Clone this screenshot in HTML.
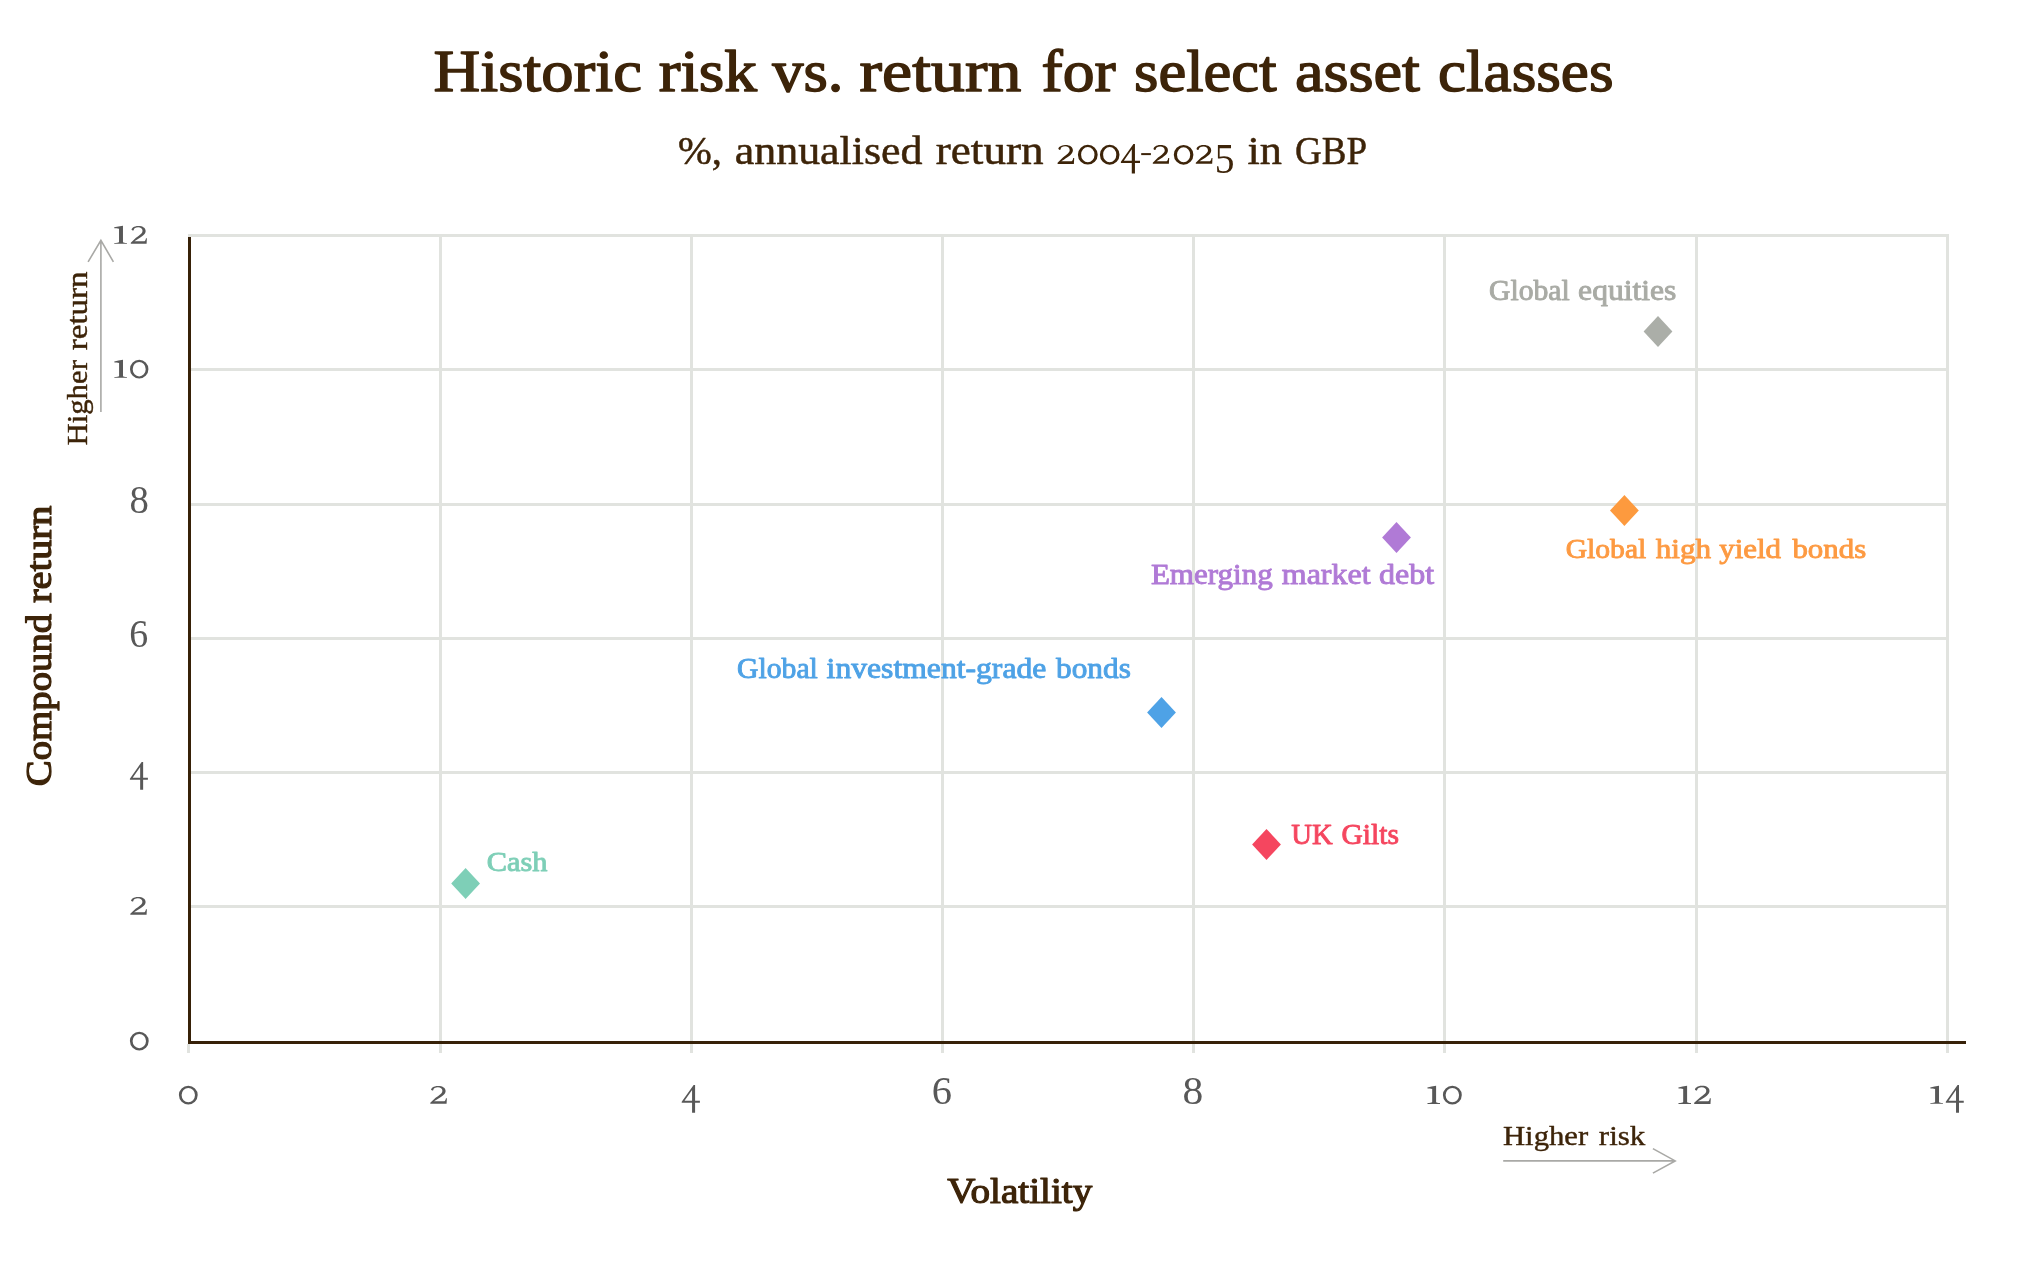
<!DOCTYPE html><html><head><meta charset="utf-8"><title>Historic risk vs. return for select asset classes</title><style>html,body{margin:0;padding:0;background:#fff;}svg{display:block;will-change:transform;font-family:"Liberation Serif",serif;}</style></head><body>
<svg width="2044" height="1280" viewBox="0 0 2044 1280">
<rect width="2044" height="1280" fill="#fff"/>
<g fill="#e1e3df"><rect x="188" y="234" width="1760" height="3"/><rect x="188" y="368" width="1760" height="3"/><rect x="188" y="503" width="1760" height="3"/><rect x="188" y="637" width="1760" height="3"/><rect x="188" y="771" width="1760" height="3"/><rect x="188" y="905" width="1760" height="3"/><rect x="439" y="234" width="3" height="819"/><rect x="690" y="234" width="3" height="819"/><rect x="941" y="234" width="3" height="819"/><rect x="1192" y="234" width="3" height="819"/><rect x="1443" y="234" width="3" height="819"/><rect x="1695" y="234" width="3" height="819"/><rect x="1946" y="234" width="3" height="819"/><rect x="187" y="1044" width="3" height="9"/></g>
<g>
<g font-size="59.43" fill="#3d2409" stroke="#3d2409" stroke-width="1.4" stroke-linejoin="round"><text transform="translate(433.55,91) scale(1.0880,1)">Historic</text><text transform="translate(658.65,91) scale(1.1025,1)">risk</text><text transform="translate(772.24,91) scale(1.0507,1)">vs.</text><text transform="translate(859.54,91) scale(1.1407,1)">return</text><text transform="translate(1041.56,91) scale(1.0709,1)">for</text><text transform="translate(1134.08,91) scale(1.0531,1)">select</text><text transform="translate(1294.95,91) scale(1.0827,1)">asset</text><text transform="translate(1437.97,91) scale(1.0639,1)">classes</text></g>
<g font-size="40.68" fill="#3d2409" stroke="#3d2409" stroke-width="0.5" stroke-linejoin="round"><text transform="translate(678.08,163.55) scale(0.9966,1)">%,</text><text transform="translate(734.7,163.55) scale(1.0804,1)">annualised</text><text transform="translate(935.77,163.55) scale(1.1105,1)">return</text></g>
<g font-size="40.23" fill="#3d2409" stroke="#3d2409" stroke-width="0.5" stroke-linejoin="round"><text transform="translate(1247.48,163.65) scale(1.1007,1)">in</text><text transform="translate(1294.97,163.65) scale(0.9203,1)">GBP</text></g>
<g font-size="36.02" fill="#3d2409" stroke="#3d2409" stroke-width="1.2" stroke-linejoin="round"><text transform="translate(51.2,786.17) rotate(-90) scale(1.0770,1)">Compound</text><text transform="translate(51.2,603.06) rotate(-90) scale(1.1323,1)">return</text></g>
<g font-size="36.42" fill="#3d2409" stroke="#3d2409" stroke-width="1.2" stroke-linejoin="round"><text transform="translate(947.34,1202.5) scale(1.0742,1)">Volatility</text></g>
<g font-size="29.41" fill="#3d2409" stroke="#3d2409" stroke-width="0.4" stroke-linejoin="round"><text transform="translate(86.7,445.57) rotate(-90) scale(1.0471,1)">Higher</text><text transform="translate(86.7,350.19) rotate(-90) scale(1.1210,1)">return</text></g>
<g font-size="27.73" fill="#3d2409" stroke="#3d2409" stroke-width="0.4" stroke-linejoin="round"><text transform="translate(1502.94,1144.5) scale(1.1075,1)">Higher</text><text transform="translate(1598.84,1144.5) scale(1.1187,1)">risk</text></g>
<g font-size="28.73" fill="#a9aba5" stroke="#a9aba5" stroke-width="0.9" stroke-linejoin="round"><text transform="translate(1489.04,299.75) scale(1.0330,1)">Global</text><text transform="translate(1578.11,299.75) scale(1.1006,1)">equities</text></g>
<g font-size="28.28" fill="#fd9a42" stroke="#fd9a42" stroke-width="0.9" stroke-linejoin="round"><text transform="translate(1565.65,558.45) scale(1.0478,1)">Global</text><text transform="translate(1655.7,558.45) scale(1.1021,1)">high</text><text transform="translate(1719.29,558.45) scale(1.0932,1)">yield</text><text transform="translate(1792.39,558.45) scale(1.0929,1)">bonds</text></g>
<g font-size="28.5" fill="#b07ad6" stroke="#b07ad6" stroke-width="0.9" stroke-linejoin="round"><text transform="translate(1150.91,583.55) scale(1.0897,1)">Emerging</text><text transform="translate(1281.71,583.55) scale(1.1247,1)">market</text><text transform="translate(1379,583.55) scale(1.1247,1)">debt</text></g>
<g font-size="28.43" fill="#4ea2e6" stroke="#4ea2e6" stroke-width="0.9" stroke-linejoin="round"><text transform="translate(737.04,678.45) scale(1.0450,1)">Global</text><text transform="translate(826.61,678.45) scale(1.1137,1)">investment-grade</text><text transform="translate(1056.1,678.45) scale(1.1005,1)">bonds</text></g>
<g font-size="28.8" fill="#f5465f" stroke="#f5465f" stroke-width="0.9" stroke-linejoin="round"><text transform="translate(1291.3,843.85) scale(0.9965,1)">UK</text><text transform="translate(1341.54,843.85) scale(1.0262,1)">Gilts</text></g>
<g font-size="28.28" fill="#7ecfb7" stroke="#7ecfb7" stroke-width="0.9" stroke-linejoin="round"><text transform="translate(486.73,870.65) scale(1.0747,1)">Cash</text></g>
<path transform="translate(114.30,225.80) scale(12.600,17.950)" d="M -0.0125 0.0783 C 0.2000 0.0435 0.4500 0.0087 0.6875 -0.0087 L 0.6875 0.8957 C 0.7000 0.9304 0.8500 0.9443 1.0000 0.9565 L 1.0000 1.0000 L 0.0000 1.0000 L 0.0000 0.9565 C 0.1750 0.9443 0.3500 0.9304 0.3750 0.8957 L 0.3750 0.1652 C 0.2500 0.1478 0.1250 0.1391 0.0050 0.1391 Z" fill="#585858"/>
<path transform="translate(130.80,225.80) scale(16.100,17.950)" d="M 0.0485 0.2261 C 0.0291 0.1304 0.2039 0.0087 0.4563 0.0052 C 0.7476 0.0017 0.9223 0.1130 0.9223 0.2870 C 0.9223 0.4783 0.6699 0.6174 0.3981 0.7652 L 0.2233 0.8609 L 0.8447 0.8609 C 0.8932 0.8522 0.9223 0.7913 0.9417 0.6957 L 1.0000 0.6957 L 0.9806 1.0000 L 0.0000 1.0000 L 0.0000 0.9391 L 0.3204 0.6696 C 0.5922 0.4957 0.7282 0.4087 0.7282 0.2783 C 0.7282 0.1565 0.6117 0.0817 0.4563 0.0817 C 0.3010 0.0817 0.1942 0.1391 0.1845 0.2174 C 0.1806 0.2696 0.1068 0.2904 0.0485 0.2261 Z" fill="#585858"/>
<path transform="translate(114.40,360.00) scale(12.500,17.800)" d="M -0.0125 0.0783 C 0.2000 0.0435 0.4500 0.0087 0.6875 -0.0087 L 0.6875 0.8957 C 0.7000 0.9304 0.8500 0.9443 1.0000 0.9565 L 1.0000 1.0000 L 0.0000 1.0000 L 0.0000 0.9565 C 0.1750 0.9443 0.3500 0.9304 0.3750 0.8957 L 0.3750 0.1652 C 0.2500 0.1478 0.1250 0.1391 0.0050 0.1391 Z" fill="#585858"/>
<path fill-rule="evenodd" fill="#585858" d="M130 369.2a9.2 9.4 0 1 0 18.4 0a9.2 9.4 0 1 0 -18.4 0ZM132.7 369.2a6.5 7.2 0 1 0 13 0a6.5 7.2 0 1 0 -13 0Z"/>
<text transform="translate(129.43,513.31) scale(0.3869,0.4001)" font-size="100" fill="#585858">8</text>
<text transform="translate(129.27,647.01) scale(0.3792,0.4033)" font-size="100" fill="#585858">6</text>
<path fill-rule="evenodd" transform="translate(129.90,761.90) scale(18.000,27.900)" d="M 0.0000 0.6056 L 0.6559 0.0000 L 0.7355 0.0000 L 0.7355 0.5704 L 1.0000 0.5704 L 1.0000 0.6408 L 0.7355 0.6408 L 0.7355 1.0000 L 0.5699 1.0000 L 0.5699 0.6408 L 0.0000 0.6408 Z M 0.1548 0.5704 L 0.5699 0.5704 L 0.5699 0.1789 Z" fill="#585858"/>
<path transform="translate(130.30,896.80) scale(16.600,18.000)" d="M 0.0485 0.2261 C 0.0291 0.1304 0.2039 0.0087 0.4563 0.0052 C 0.7476 0.0017 0.9223 0.1130 0.9223 0.2870 C 0.9223 0.4783 0.6699 0.6174 0.3981 0.7652 L 0.2233 0.8609 L 0.8447 0.8609 C 0.8932 0.8522 0.9223 0.7913 0.9417 0.6957 L 1.0000 0.6957 L 0.9806 1.0000 L 0.0000 1.0000 L 0.0000 0.9391 L 0.3204 0.6696 C 0.5922 0.4957 0.7282 0.4087 0.7282 0.2783 C 0.7282 0.1565 0.6117 0.0817 0.4563 0.0817 C 0.3010 0.0817 0.1942 0.1391 0.1845 0.2174 C 0.1806 0.2696 0.1068 0.2904 0.0485 0.2261 Z" fill="#585858"/>
<path fill-rule="evenodd" fill="#585858" d="M129.9 1041.1a9.4 9.3 0 1 0 18.8 0a9.4 9.3 0 1 0 -18.8 0ZM132.6 1041.1a6.7 7.1 0 1 0 13.4 0a6.7 7.1 0 1 0 -13.4 0Z"/>
<path fill-rule="evenodd" fill="#585858" d="M178.9 1095.1a9.4 9.3 0 1 0 18.8 0a9.4 9.3 0 1 0 -18.8 0ZM181.6 1095.1a6.7 7.1 0 1 0 13.4 0a6.7 7.1 0 1 0 -13.4 0Z"/>
<path transform="translate(430.30,1085.80) scale(16.600,18.000)" d="M 0.0485 0.2261 C 0.0291 0.1304 0.2039 0.0087 0.4563 0.0052 C 0.7476 0.0017 0.9223 0.1130 0.9223 0.2870 C 0.9223 0.4783 0.6699 0.6174 0.3981 0.7652 L 0.2233 0.8609 L 0.8447 0.8609 C 0.8932 0.8522 0.9223 0.7913 0.9417 0.6957 L 1.0000 0.6957 L 0.9806 1.0000 L 0.0000 1.0000 L 0.0000 0.9391 L 0.3204 0.6696 C 0.5922 0.4957 0.7282 0.4087 0.7282 0.2783 C 0.7282 0.1565 0.6117 0.0817 0.4563 0.0817 C 0.3010 0.0817 0.1942 0.1391 0.1845 0.2174 C 0.1806 0.2696 0.1068 0.2904 0.0485 0.2261 Z" fill="#585858"/>
<path fill-rule="evenodd" transform="translate(681.70,1085.00) scale(18.200,27.800)" d="M 0.0000 0.6056 L 0.6559 0.0000 L 0.7355 0.0000 L 0.7355 0.5704 L 1.0000 0.5704 L 1.0000 0.6408 L 0.7355 0.6408 L 0.7355 1.0000 L 0.5699 1.0000 L 0.5699 0.6408 L 0.0000 0.6408 Z M 0.1548 0.5704 L 0.5699 0.5704 L 0.5699 0.1789 Z" fill="#585858"/>
<text transform="translate(931.76,1103.91) scale(0.4049,0.3989)" font-size="100" fill="#585858">6</text>
<text transform="translate(1182.62,1103.92) scale(0.4153,0.3912)" font-size="100" fill="#585858">8</text>
<path transform="translate(1427.50,1086.00) scale(12.500,17.900)" d="M -0.0125 0.0783 C 0.2000 0.0435 0.4500 0.0087 0.6875 -0.0087 L 0.6875 0.8957 C 0.7000 0.9304 0.8500 0.9443 1.0000 0.9565 L 1.0000 1.0000 L 0.0000 1.0000 L 0.0000 0.9565 C 0.1750 0.9443 0.3500 0.9304 0.3750 0.8957 L 0.3750 0.1652 C 0.2500 0.1478 0.1250 0.1391 0.0050 0.1391 Z" fill="#585858"/>
<path fill-rule="evenodd" fill="#585858" d="M1442.9 1095.1a9.45 9.4 0 1 0 18.9 0a9.45 9.4 0 1 0 -18.9 0ZM1445.6 1095.1a6.75 7.2 0 1 0 13.5 0a6.75 7.2 0 1 0 -13.5 0Z"/>
<path transform="translate(1678.50,1086.00) scale(12.500,17.900)" d="M -0.0125 0.0783 C 0.2000 0.0435 0.4500 0.0087 0.6875 -0.0087 L 0.6875 0.8957 C 0.7000 0.9304 0.8500 0.9443 1.0000 0.9565 L 1.0000 1.0000 L 0.0000 1.0000 L 0.0000 0.9565 C 0.1750 0.9443 0.3500 0.9304 0.3750 0.8957 L 0.3750 0.1652 C 0.2500 0.1478 0.1250 0.1391 0.0050 0.1391 Z" fill="#585858"/>
<path transform="translate(1694.20,1085.70) scale(16.600,18.200)" d="M 0.0485 0.2261 C 0.0291 0.1304 0.2039 0.0087 0.4563 0.0052 C 0.7476 0.0017 0.9223 0.1130 0.9223 0.2870 C 0.9223 0.4783 0.6699 0.6174 0.3981 0.7652 L 0.2233 0.8609 L 0.8447 0.8609 C 0.8932 0.8522 0.9223 0.7913 0.9417 0.6957 L 1.0000 0.6957 L 0.9806 1.0000 L 0.0000 1.0000 L 0.0000 0.9391 L 0.3204 0.6696 C 0.5922 0.4957 0.7282 0.4087 0.7282 0.2783 C 0.7282 0.1565 0.6117 0.0817 0.4563 0.0817 C 0.3010 0.0817 0.1942 0.1391 0.1845 0.2174 C 0.1806 0.2696 0.1068 0.2904 0.0485 0.2261 Z" fill="#585858"/>
<path transform="translate(1930.40,1086.00) scale(12.500,17.800)" d="M -0.0125 0.0783 C 0.2000 0.0435 0.4500 0.0087 0.6875 -0.0087 L 0.6875 0.8957 C 0.7000 0.9304 0.8500 0.9443 1.0000 0.9565 L 1.0000 1.0000 L 0.0000 1.0000 L 0.0000 0.9565 C 0.1750 0.9443 0.3500 0.9304 0.3750 0.8957 L 0.3750 0.1652 C 0.2500 0.1478 0.1250 0.1391 0.0050 0.1391 Z" fill="#585858"/>
<path fill-rule="evenodd" transform="translate(1945.80,1085.00) scale(17.950,27.800)" d="M 0.0000 0.6056 L 0.6559 0.0000 L 0.7355 0.0000 L 0.7355 0.5704 L 1.0000 0.5704 L 1.0000 0.6408 L 0.7355 0.6408 L 0.7355 1.0000 L 0.5699 1.0000 L 0.5699 0.6408 L 0.0000 0.6408 Z M 0.1548 0.5704 L 0.5699 0.5704 L 0.5699 0.1789 Z" fill="#585858"/>
<path transform="translate(1057.60,144.80) scale(16.600,19.100)" d="M 0.0485 0.2261 C 0.0291 0.1304 0.2039 0.0087 0.4563 0.0052 C 0.7476 0.0017 0.9223 0.1130 0.9223 0.2870 C 0.9223 0.4783 0.6699 0.6174 0.3981 0.7652 L 0.2233 0.8609 L 0.8447 0.8609 C 0.8932 0.8522 0.9223 0.7913 0.9417 0.6957 L 1.0000 0.6957 L 0.9806 1.0000 L 0.0000 1.0000 L 0.0000 0.9391 L 0.3204 0.6696 C 0.5922 0.4957 0.7282 0.4087 0.7282 0.2783 C 0.7282 0.1565 0.6117 0.0817 0.4563 0.0817 C 0.3010 0.0817 0.1942 0.1391 0.1845 0.2174 C 0.1806 0.2696 0.1068 0.2904 0.0485 0.2261 Z" fill="#3d2409"/>
<path fill-rule="evenodd" fill="#3d2409" d="M1077.9 154.7a9.9 9.9 0 1 0 19.8 0a9.9 9.9 0 1 0 -19.8 0ZM1081.1 154.7a6.7 7.6 0 1 0 13.4 0a6.7 7.6 0 1 0 -13.4 0Z"/>
<path fill-rule="evenodd" fill="#3d2409" d="M1099.9 154.7a9.8 9.9 0 1 0 19.6 0a9.8 9.9 0 1 0 -19.6 0ZM1103.1 154.7a6.6 7.6 0 1 0 13.2 0a6.6 7.6 0 1 0 -13.2 0Z"/>
<path fill-rule="evenodd" transform="translate(1120.90,144.10) scale(19.100,29.300)" d="M 0.0000 0.6056 L 0.6559 0.0000 L 0.7355 0.0000 L 0.7355 0.5704 L 1.0000 0.5704 L 1.0000 0.6408 L 0.7355 0.6408 L 0.7355 1.0000 L 0.5699 1.0000 L 0.5699 0.6408 L 0.0000 0.6408 Z M 0.1548 0.5704 L 0.5699 0.5704 L 0.5699 0.1789 Z" fill="#3d2409"/>
<path transform="translate(1152.80,145.00) scale(16.400,18.800)" d="M 0.0485 0.2261 C 0.0291 0.1304 0.2039 0.0087 0.4563 0.0052 C 0.7476 0.0017 0.9223 0.1130 0.9223 0.2870 C 0.9223 0.4783 0.6699 0.6174 0.3981 0.7652 L 0.2233 0.8609 L 0.8447 0.8609 C 0.8932 0.8522 0.9223 0.7913 0.9417 0.6957 L 1.0000 0.6957 L 0.9806 1.0000 L 0.0000 1.0000 L 0.0000 0.9391 L 0.3204 0.6696 C 0.5922 0.4957 0.7282 0.4087 0.7282 0.2783 C 0.7282 0.1565 0.6117 0.0817 0.4563 0.0817 C 0.3010 0.0817 0.1942 0.1391 0.1845 0.2174 C 0.1806 0.2696 0.1068 0.2904 0.0485 0.2261 Z" fill="#3d2409"/>
<path fill-rule="evenodd" fill="#3d2409" d="M1173.8 154.8a9.8 9.8 0 1 0 19.6 0a9.8 9.8 0 1 0 -19.6 0ZM1177 154.8a6.6 7.5 0 1 0 13.2 0a6.6 7.5 0 1 0 -13.2 0Z"/>
<path transform="translate(1195.80,145.00) scale(16.700,18.800)" d="M 0.0485 0.2261 C 0.0291 0.1304 0.2039 0.0087 0.4563 0.0052 C 0.7476 0.0017 0.9223 0.1130 0.9223 0.2870 C 0.9223 0.4783 0.6699 0.6174 0.3981 0.7652 L 0.2233 0.8609 L 0.8447 0.8609 C 0.8932 0.8522 0.9223 0.7913 0.9417 0.6957 L 1.0000 0.6957 L 0.9806 1.0000 L 0.0000 1.0000 L 0.0000 0.9391 L 0.3204 0.6696 C 0.5922 0.4957 0.7282 0.4087 0.7282 0.2783 C 0.7282 0.1565 0.6117 0.0817 0.4563 0.0817 C 0.3010 0.0817 0.1942 0.1391 0.1845 0.2174 C 0.1806 0.2696 0.1068 0.2904 0.0485 0.2261 Z" fill="#3d2409"/>
<text transform="translate(1214.81,173.08) scale(0.3947,0.4259)" font-size="100" fill="#3d2409">5</text>
<rect x="1141.2" y="153.1" width="9.7" height="2" fill="#3d2409"/>
</g>
<rect x="188" y="237" width="3" height="807" fill="#372108"/>
<rect x="188" y="1041" width="1778" height="3" fill="#372108"/>
<g fill="none" stroke="#a9a9a6" stroke-width="1.6">
<path d="M100.9 411.9V240.5M88.1 261.9L100.9 240.3L113.4 261.9"/>
<path d="M1503.2 1160.9H1675M1652.9 1148.6L1675.2 1160.9L1652.9 1173.1"/>
</g>
<path d="M465.6 868.1L480 883.6L465.6 899.1L451.2 883.6Z" fill="#7ecfb7"/>
<path d="M1266.5 828.9L1280.9 844.4L1266.5 859.9L1252.1 844.4Z" fill="#f5465f"/>
<path d="M1161.5 697.1L1175.9 712.6L1161.5 728.1L1147.1 712.6Z" fill="#4ea2e6"/>
<path d="M1396.5 521.9L1410.9 537.4L1396.5 552.9L1382.1 537.4Z" fill="#b07ad6"/>
<path d="M1624.4 495L1638.8 510.5L1624.4 526L1610 510.5Z" fill="#fd9a3e"/>
<path d="M1658 316.1L1672.4 331.6L1658 347.1L1643.6 331.6Z" fill="#abaea8"/>
</svg></body></html>
